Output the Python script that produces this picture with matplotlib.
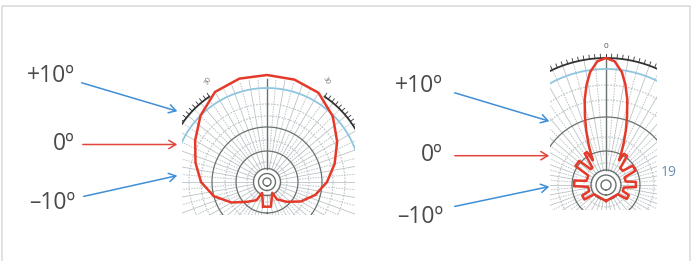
import numpy as np
import matplotlib.pyplot as plt
from matplotlib.patches import FancyArrowPatch

plt.rcParams['font.family'] = ['Open Sans', 'DejaVu Sans']

# labels of the arrows (same on both panels)
labels = ['+10º', '0º', '–10º']
label_colors = ['#3f8fd6', '#e2463b', '#3f8fd6']

# left pattern: angle from vertical (deg), radius (px of chart)
left_theta = [-171, -156, -150, -135, -120, -105, -90, -75, -60, -45, -30, -15,
              0, 15, 30, 45, 60, 75, 90, 105, 120, 135, 150, 154, 171, 189]
left_r = [25, 12, 21, 28, 41, 55, 66, 74, 83, 94, 104, 107,
          107, 106, 103, 93, 81, 70, 60, 50, 39, 28, 20, 12, 25, 25]

# right pattern (narrow main lobe + side lobes)
right_theta = [-180, -128, -124, -114, -110, -96, -92, -82, -78, -62, -58, -48,
               -44, -38, -34, -30, -28, -26, -23, -20, -17, -14, -11, -8, -4,
               0, 4, 8, 11, 14, 17, 20, 23, 26, 28, 30, 36, 40, 50, 54, 64, 68,
               80, 84, 94, 98, 110, 114, 124, 128, 180]
right_r = [16, 15, 26, 26, 18, 18, 32, 32, 20, 20, 36, 36,
           22, 22, 38, 38, 28, 34, 45, 58, 72, 88, 102, 114, 124,
           127, 124, 114, 102, 88, 72, 58, 45, 34, 28, 36, 36, 22, 22, 33, 33, 20,
           20, 30, 30, 18, 18, 25, 25, 15, 16]

W, H = 692, 261
fig = plt.figure(figsize=(W / 100, H / 100), dpi=100)
ax = fig.add_axes([0, 0, 1, 1])
ax.set_xlim(0, W)
ax.set_ylim(H, 0)
ax.axis('off')

# light frame
ax.plot([1.5, 1.5, 690, 690], [265, 5.5, 5.5, 265], color='#dcdcdc', lw=1.2)

red = '#e5392a'
grid_c = '#bcc3c6'
dark_c = '#69726f'
blue_arc = '#8fc6df'


def chart(x0, y0, x1, y1, cx, cy):
    a = fig.add_axes([x0 / W, 1 - y1 / H, (x1 - x0) / W, (y1 - y0) / H])
    a.set_xlim(x0 - cx, x1 - cx)
    a.set_ylim(cy - y1, cy - y0)
    a.axis('off')
    return a


def arc(a, r, t0, t1, **kw):
    t = np.radians(np.linspace(t0, t1, 200))
    a.plot(r * np.sin(t), r * np.cos(t), **kw)


def polar_grid(a, rings, dark, small, r_outer, r_blue, scale_from):
    for ang in np.arange(-180, 180, 10):
        t = np.radians(ang)
        a.plot([14 * np.sin(t), r_outer * np.sin(t)], [14 * np.cos(t), r_outer * np.cos(t)],
               color=grid_c, lw=0.6)
        t2 = np.radians(ang + 5)
        a.plot([30 * np.sin(t2), r_outer * np.sin(t2)], [30 * np.cos(t2), r_outer * np.cos(t2)],
               color=grid_c, lw=0.7, dashes=[1.5, 1.2])
    for r in rings:
        arc(a, r, -180, 180, color=grid_c, lw=0.8, dashes=[1.5, 1.2])
    for r in dark:
        arc(a, r, -180, 180, color=dark_c, lw=0.9)
    for r in small:
        arc(a, r, -180, 180, color=dark_c, lw=1.0)
    a.plot([0, 0], [small[-1], r_outer], color=dark_c, lw=1.0)
    arc(a, r_blue, -80, 80, color=blue_arc, lw=1.3)
    for side in (-1, 1):
        arc(a, r_outer, side * scale_from, side * 80, color='#333333', lw=1.3)
        for ang in np.arange(scale_from, 80.1, 2.5):
            t = np.radians(side * ang)
            a.plot([r_outer * np.sin(t), (r_outer + 4) * np.sin(t)],
                   [r_outer * np.cos(t), (r_outer + 4) * np.cos(t)], color='#333333', lw=0.6)


# left chart
axl = chart(182, 68, 355, 215, 267, 182)
polar_grid(axl, [20, 42, 66, 78], [31, 55], [4, 8.5, 13.5], 103, 94, 34)
for s in (-1, 1):
    t = np.radians(30 * s)
    axl.text(117 * np.sin(t), 117 * np.cos(t), '30', fontsize=5, color='#777777',
             rotation=-60 * s, ha='center', va='center')
lt = np.radians(left_theta)
axl.plot(np.array(left_r) * np.sin(lt), np.array(left_r) * np.cos(lt), color=red, lw=1.8)

# right chart
axr = chart(550, 38, 657, 210, 606, 185)
polar_grid(axr, [22, 48, 85, 100], [34, 68], [5, 10, 15], 127, 116, 0)
axr.text(0, 138, '0', fontsize=6, color='#555555', ha='center', va='center')
rt = np.radians(right_theta)
axr.plot(np.array(right_r) * np.sin(rt), np.array(right_r) * np.cos(rt), color=red, lw=1.8)

ax.text(661, 173, '19', fontsize=10, color='#6b8fb5', va='center', ha='left')

# labels and arrows
left_label_y = [76, 144, 203]
left_start = [(79, 82), (80, 144.5), (81, 197)]
left_end = [(180, 112), (180, 144.5), (180, 175)]
right_label_y = [86, 155, 217]
right_start = [(452, 92), (452, 155.7), (452, 207)]
right_end = [(552, 122), (552, 155.7), (552, 186)]

for lx, ly, st, en in ((75, left_label_y, left_start, left_end),
                       (443, right_label_y, right_start, right_end)):
    for lab, y, c, s, e in zip(labels, ly, label_colors, st, en):
        ax.text(lx, y, lab, fontsize=16.5, color='#4a4a4a', ha='right', va='center')
        ax.add_patch(FancyArrowPatch(s, e, arrowstyle='->,head_length=5,head_width=3',
                                     color=c, lw=1.1, mutation_scale=1))

fig.savefig('out.png', dpi=100)
